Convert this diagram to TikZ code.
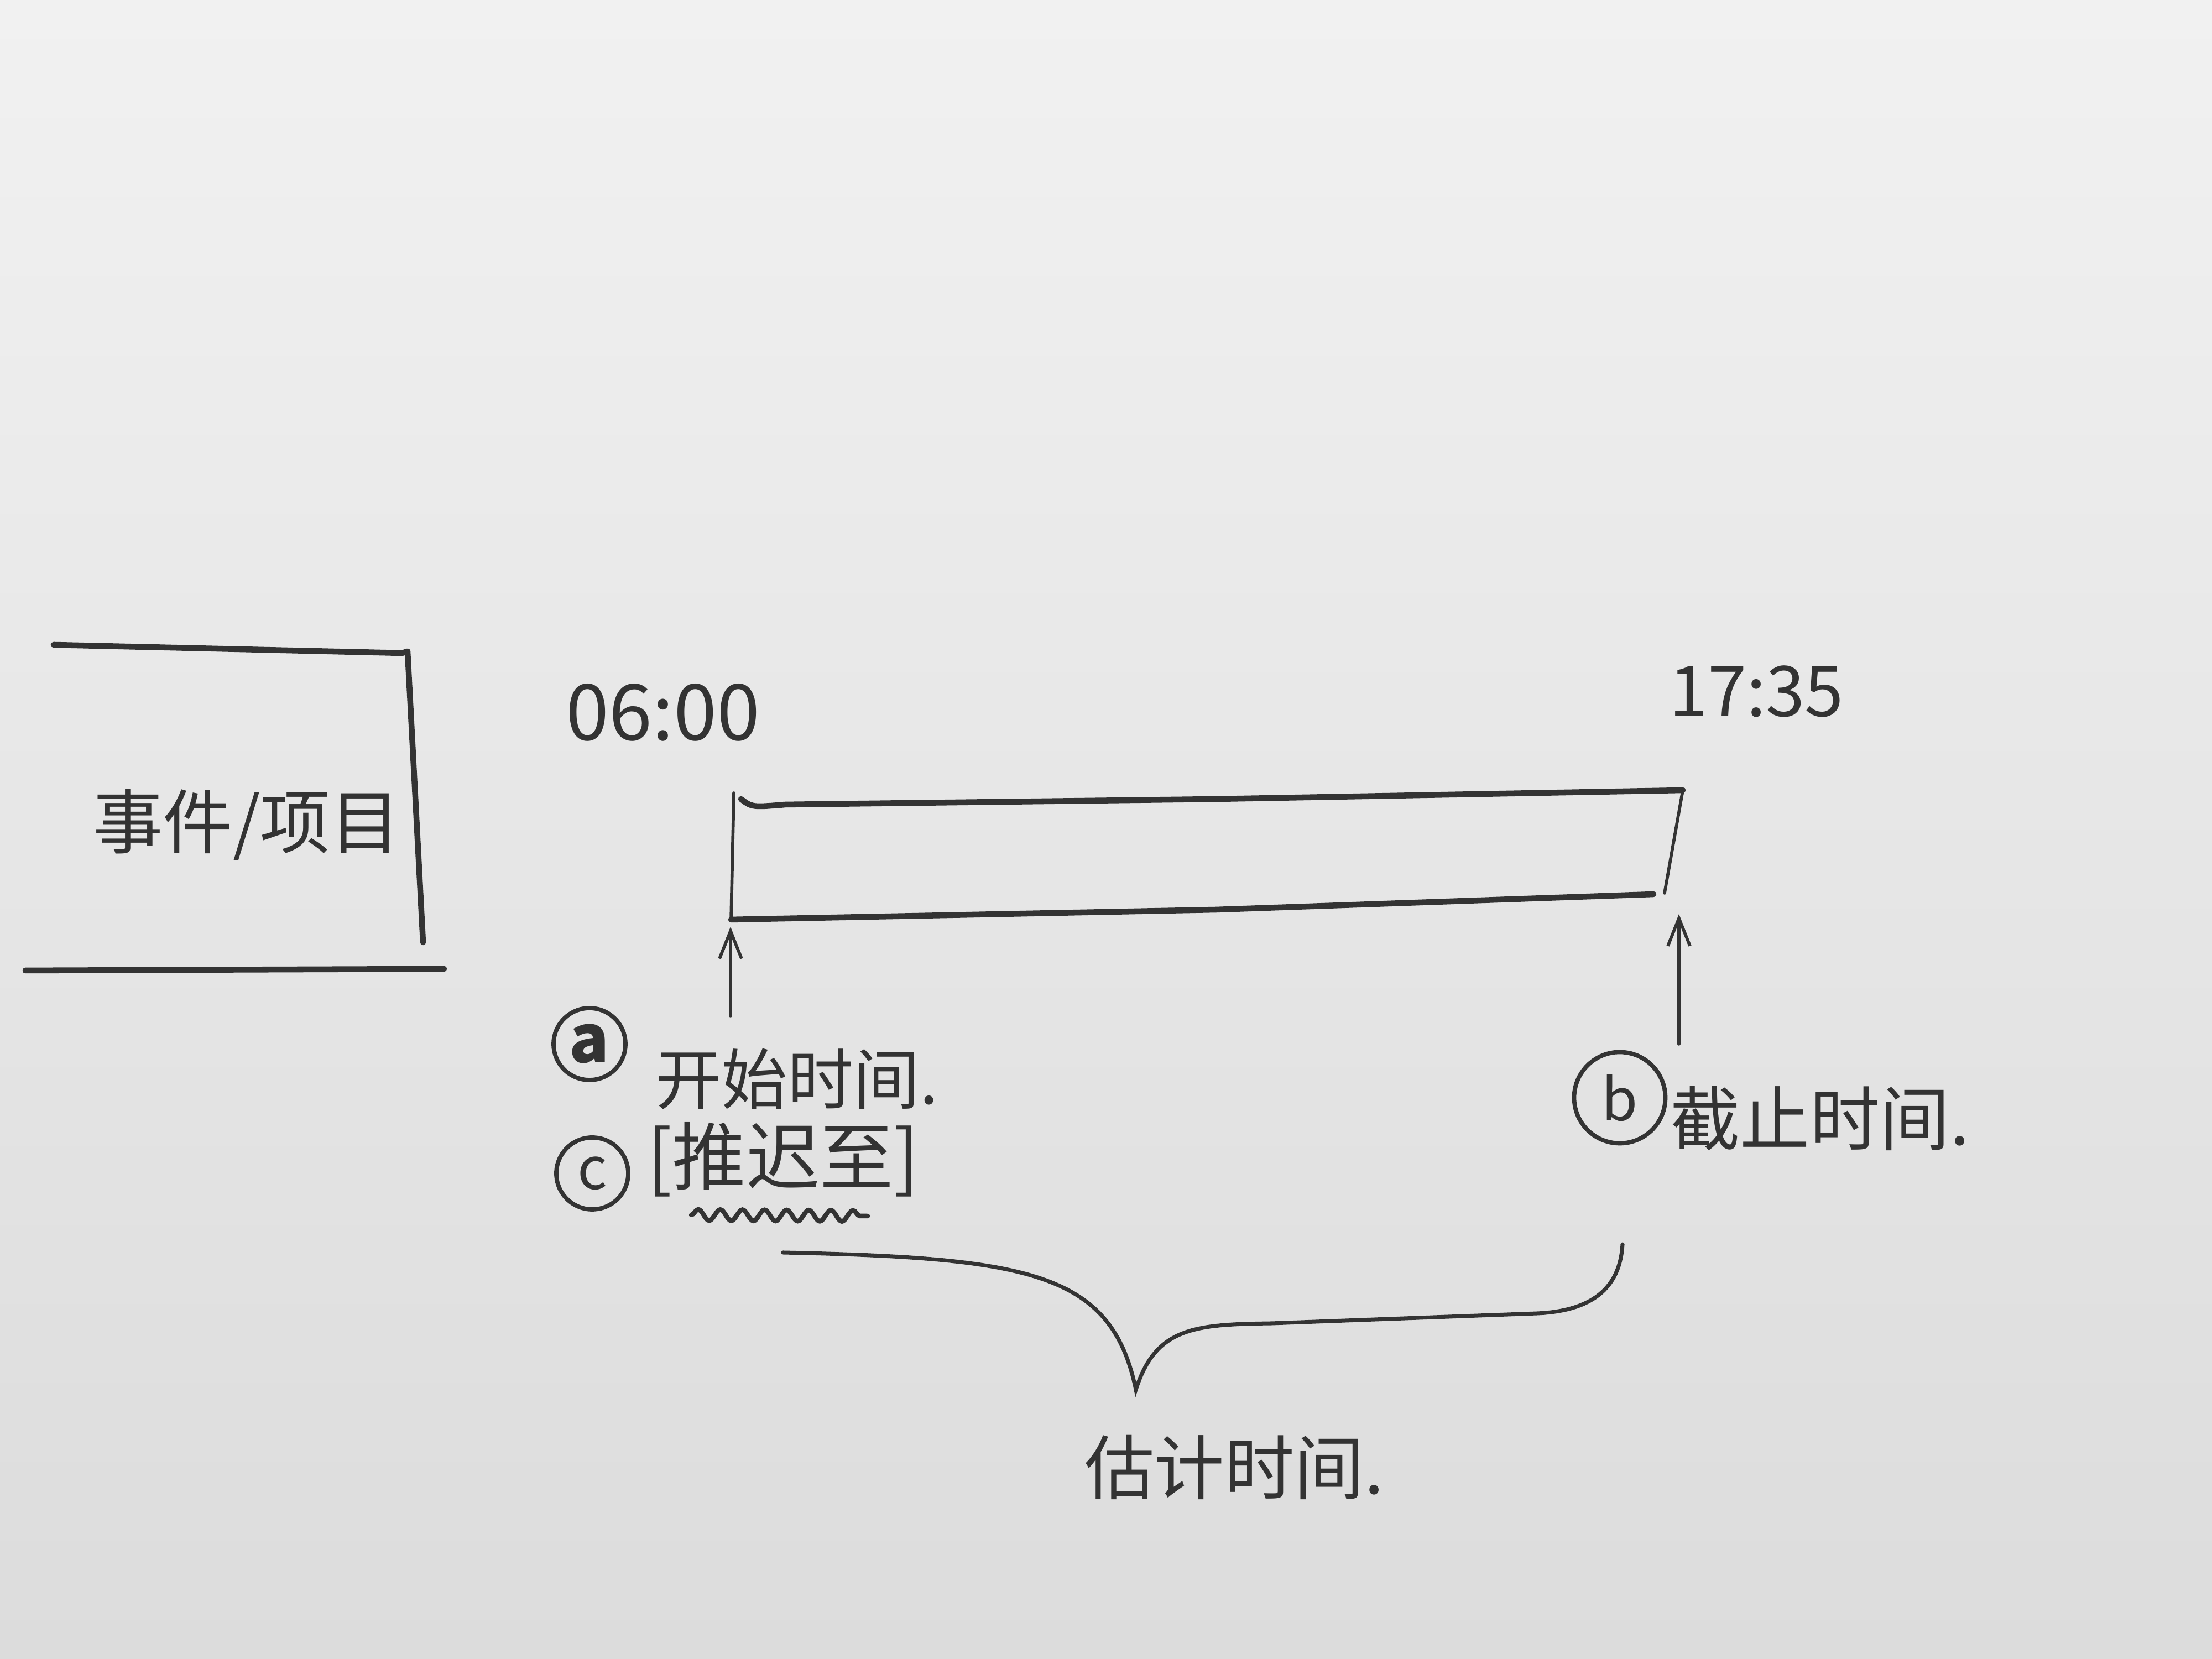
\documentclass[tikz,border=0pt]{standalone}
\usepackage{fontspec}
\setmainfont{Noto Sans CJK SC}
\usetikzlibrary{arrows.meta,decorations.pathmorphing}
\definecolor{ink}{HTML}{333333}
\definecolor{paperA}{HTML}{F1F1F1}
\definecolor{paperB}{HTML}{DCDCDC}
\tikzset{
  thickline/.style={draw=ink,line width=3pt,line cap=round,line join=round},
  thinline/.style={draw=ink,line width=1.6pt,line cap=round},
  uparrow/.style={thinline,-{Straight Barb[length=0.5cm,width=0.4cm,line width=1.6pt]}},
  label/.style={text=ink,font=\fontsize{34}{40}\selectfont,inner sep=0pt},
  timelabel/.style={text=ink,font=\fontsize{40}{46}\selectfont,inner sep=0pt},
  circled/.style={circle,draw=ink,line width=2.2pt,text=ink,inner sep=0pt,
    minimum size=1.3cm,font=\fontsize{30}{34}\selectfont}
}
\begin{document}
\begin{tikzpicture}
\useasboundingbox (0,0) rectangle (40,30);
\shade[top color=paperA,bottom color=paperB] (0,0) rectangle (40,30);

% left box (top, right side, bottom)
\draw[thickline] (0.97,18.34) -- (7.27,18.19) -- (7.37,18.22) -- (7.65,12.96);
\draw[thickline] (0.46,12.45) -- (8.03,12.48);
\node[label,font=\fontsize{36}{42}\selectfont] (item) at (4.46,15.08) {事件/项目};

% time labels
\node[timelabel] (tstart) at (11.99,17.12) {06:00};
\node[timelabel,font=\fontsize{36}{42}\selectfont] (tend) at (31.76,17.50) {17:35};

% timeline bar
\coordinate (barTL) at (13.27,15.55);
\coordinate (barTR) at (30.43,15.71);
\coordinate (barBR) at (30.10,13.85);
\coordinate (barBL) at (13.22,13.37);
\draw[thinline] (13.27,15.66) -- (13.22,13.37);
\draw[thickline] (13.40,15.55) .. controls (13.6,15.40) .. (14.2,15.45) -- (22,15.55) -- (30.43,15.71);
\draw[thinline] (barTR) -- (barBR);
\draw[thickline] (barBL) -- (22,13.55) -- (29.9,13.83);

% arrows to the bar
\coordinate (aTail) at (13.21,11.63);
\coordinate (aHead) at (13.21,13.24);
\coordinate (bTail) at (30.36,11.12);
\coordinate (bHead) at (30.36,13.47);
\draw[uparrow] (aTail) -- (aHead);
\draw[uparrow] (bTail) -- (bHead);

% start labels
\node[circled,font=\bfseries\fontsize{34}{38}\selectfont] (ca) at (10.66,11.12) {a};
\node[label] (start) at (14.41,10.49) {开始时间.};
\node[circled] (cc) at (10.71,8.78) {c};
\node[label,font=\fontsize{38}{44}\selectfont] (delay) at (14.16,9.03) {[推迟至]};
\draw[thinline,line width=2.4pt,decorate,decoration={snake,amplitude=0.1cm,segment length=0.4cm}] (12.50,8.03) -- (15.69,8.01);

% end label
\node[circled,minimum size=1.65cm] (cb) at (29.29,10.15) {b};
\node[label,font=\fontsize{36}{42}\selectfont] (deadline) at (32.91,9.77) {截止时间.};

% brace
\coordinate (brL) at (14.16,7.35);
\coordinate (brTip) at (20.54,4.87);
\coordinate (brR) at (29.34,7.50);
\draw[thinline,line width=2pt] (brL) .. controls (18.6,7.25) and (20.1,7.0) .. (brTip)
  .. controls (20.9,6.0) and (21.6,6.05) .. (23,6.07) -- (27.8,6.25)
  .. controls (28.9,6.3) and (29.3,6.8) .. (brR);
\node[label,font=\fontsize{36}{42}\selectfont] (est) at (22.32,3.47) {估计时间.};
\end{tikzpicture}
\end{document}
